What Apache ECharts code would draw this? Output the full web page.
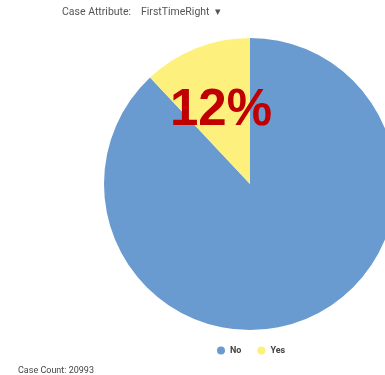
<!DOCTYPE html>
<html><head><meta charset="utf-8">
<script src="https://cdn.jsdelivr.net/npm/echarts@6/dist/echarts.min.js"></script>
<style>html,body{margin:0;padding:0;background:#fff;}#c{width:385px;height:375px;}</style>
</head><body><div id="c"></div>
<script>
const categories = ['No', 'Yes'];
const values = [18474, 2519];
const colors = ['#6a9bd0', '#fdf07c'];
const caseCount = 20993;
const attributeName = 'FirstTimeRight';

const total = values.reduce((a, b) => a + b, 0);
const yesPct = Math.round(values[1] / total * 100) + '%';

const chart = echarts.init(document.getElementById('c'));
chart.setOption({
  animation: false,
  color: colors,
  graphic: [
    { type: 'text', left: 62, top: 7, z: 100, style: { text: 'Case Attribute:', fontSize: 10.5, fill: '#555', fontFamily: 'Roboto, sans-serif' } },
    { type: 'text', left: 141, top: 7, z: 100, style: { text: attributeName + '  \u25BE', fontSize: 10.5, fill: '#555', fontFamily: 'Roboto, sans-serif' } },
    { type: 'text', left: 18, top: 366, z: 100, style: { text: 'Case Count: ' + caseCount, fontSize: 9, fill: '#444', fontFamily: 'Roboto, sans-serif' } },
    { type: 'text', left: 170, top: 85, z: 100, style: { text: yesPct, fontSize: 51, fontWeight: 'bold', fill: '#c00000', fontFamily: 'Liberation Sans, Arial, sans-serif' } }
  ],
  legend: {
    data: categories,
    bottom: 15,
    left: 212,
    icon: 'circle',
    itemWidth: 8,
    itemHeight: 8,
    itemGap: 16,
    textStyle: { fontSize: 9, fontWeight: 'bold', color: '#444', fontFamily: 'Roboto, sans-serif' }
  },
  series: [{
    type: 'pie',
    center: [250, 184],
    radius: [0, 146],
    startAngle: 90,
    label: { show: false },
    labelLine: { show: false },
    data: categories.map((c, i) => ({ name: c, value: values[i] }))
  }]
});
</script></body></html>
